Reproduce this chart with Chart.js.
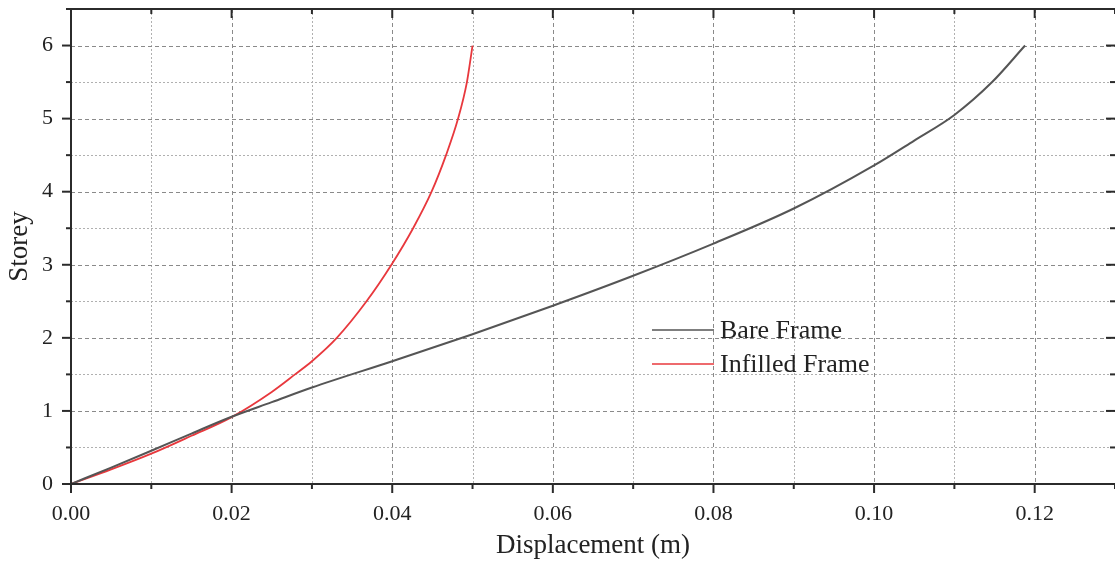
<!DOCTYPE html>
<html><head><meta charset="utf-8">
<script src="https://cdn.jsdelivr.net/npm/chart.js@4.4.0/dist/chart.umd.min.js"></script>
<style>html,body{margin:0;padding:0;background:#fff}#wrap{width:1115px;height:562px;position:relative}canvas{display:block}</style>
</head><body><div id="wrap"><canvas id="c" width="1115" height="562"></canvas></div>
<script>
const seriesNames = ['Bare Frame', 'Infilled Frame'];
const bareX = [0, 0.005, 0.01, 0.015, 0.02, 0.025, 0.03, 0.04, 0.05, 0.06, 0.07, 0.08, 0.09, 0.10, 0.105, 0.11, 0.1147, 0.1188];
const bareY = [0, 0.225, 0.455, 0.69, 0.92, 1.12, 1.32, 1.68, 2.05, 2.44, 2.85, 3.29, 3.77, 4.36, 4.70, 5.05, 5.50, 6.00];
const infillX = [0, 0.005, 0.01, 0.015, 0.02, 0.025, 0.0279, 0.03, 0.0331, 0.0368, 0.0399, 0.0426, 0.0449, 0.0467, 0.0482, 0.0493, 0.0500];
const infillY = [0, 0.20, 0.415, 0.66, 0.915, 1.26, 1.50, 1.68, 2.00, 2.50, 3.00, 3.50, 4.00, 4.50, 5.00, 5.50, 6.00];
const xTickLabels = ['0.00', '0.02', '0.04', '0.06', '0.08', '0.10', '0.12'];
const yTickLabels = ['0', '1', '2', '3', '4', '5', '6'];

const FONT = "'Liberation Serif', 'Times New Roman', serif";
const toPts = (xs, ys) => xs.map((x, i) => ({x: x, y: ys[i]}));
const noPad = s => { s.paddingLeft = 0; s.paddingRight = 0; s.paddingTop = 0; s.paddingBottom = 0; };

const framePlugin = {
  id: 'frame',
  beforeDatasetsDraw(chart) {
    const {ctx, chartArea: a, scales: {x, y}} = chart;
    ctx.save();
    ctx.lineWidth = 1;
    x.ticks.forEach(t => {
      const px = Math.round(x.getPixelForValue(t.value)) + 0.5;
      const major = xTickLabels.includes(t.value.toFixed(2));
      ctx.strokeStyle = major ? '#8a8a8a' : '#b0b0b0';
      ctx.setLineDash(major ? [4, 3] : [2, 2]);
      ctx.beginPath(); ctx.moveTo(px, a.top); ctx.lineTo(px, a.bottom); ctx.stroke();
    });
    y.ticks.forEach(t => {
      const py = Math.round(y.getPixelForValue(t.value)) + 0.5;
      const major = yTickLabels.includes(String(t.value));
      ctx.strokeStyle = major ? '#8a8a8a' : '#b0b0b0';
      ctx.setLineDash(major ? [4, 3] : [2, 2]);
      ctx.beginPath(); ctx.moveTo(a.left, py); ctx.lineTo(a.right, py); ctx.stroke();
    });
    ctx.restore();
  },
  afterDatasetsDraw(chart) {
    const {ctx, chartArea: a, scales: {x, y}} = chart;
    ctx.save();
    ctx.setLineDash([]);
    ctx.strokeStyle = '#2b2b2b';
    ctx.lineWidth = 2;
    ctx.beginPath();
    ctx.moveTo(a.right, a.top); ctx.lineTo(a.left, a.top); ctx.lineTo(a.left, a.bottom); ctx.lineTo(a.right, a.bottom);
    ctx.stroke();
    x.ticks.forEach(t => {
      const px = x.getPixelForValue(t.value);
      const major = xTickLabels.includes(t.value.toFixed(2));
      const len = major ? 9 : 5;
      ctx.beginPath(); ctx.moveTo(px, a.bottom); ctx.lineTo(px, a.bottom + len); ctx.stroke();
      ctx.beginPath(); ctx.moveTo(px, a.top); ctx.lineTo(px, a.top + len); ctx.stroke();
    });
    y.ticks.forEach(t => {
      const py = y.getPixelForValue(t.value);
      const major = yTickLabels.includes(String(t.value));
      const len = major ? 9 : 5;
      ctx.beginPath(); ctx.moveTo(a.left, py); ctx.lineTo(a.left - len, py); ctx.stroke();
      ctx.beginPath(); ctx.moveTo(a.right, py); ctx.lineTo(a.right - len, py); ctx.stroke();
    });
    // legend
    const lx = a.left + 581, ly = a.top + 321, gap = 34;
    ctx.font = '26px ' + FONT;
    ctx.textBaseline = 'middle';
    ctx.textAlign = 'left';
    chart.data.datasets.forEach((ds, i) => {
      const yy = ly + i * gap;
      ctx.strokeStyle = ds.borderColor;
      ctx.lineWidth = 1.6;
      ctx.beginPath(); ctx.moveTo(lx, yy); ctx.lineTo(lx + 62, yy); ctx.stroke();
      ctx.fillStyle = '#222';
      ctx.fillText(ds.label, lx + 68, yy + 1);
    });
    ctx.restore();
  }
};

new Chart(document.getElementById('c'), {
  type: 'line',
  data: {
    datasets: [
      {label: seriesNames[0], data: toPts(bareX, bareY), borderColor: '#555555', borderWidth: 2, pointRadius: 0, cubicInterpolationMode: 'monotone', fill: false},
      {label: seriesNames[1], data: toPts(infillX, infillY), borderColor: '#e8383d', borderWidth: 1.8, pointRadius: 0, cubicInterpolationMode: 'monotone', fill: false}
    ]
  },
  options: {
    responsive: false,
    animation: false,
    events: [],
    layout: {padding: {top: 9, right: 0, left: 0, bottom: 0}},
    plugins: {legend: {display: false}, tooltip: {enabled: false}},
    scales: {
      x: {
        type: 'linear', min: 0, max: 0.13,
        grid: {display: false, drawTicks: false}, border: {display: false},
        ticks: {
          stepSize: 0.01, autoSkip: false, maxRotation: 0, padding: 17, color: '#222',
          font: {family: FONT, size: 22},
          callback: v => { const s = Number(v).toFixed(2); return xTickLabels.includes(s) ? s : ''; }
        },
        title: {display: true, text: 'Displacement (m)', color: '#222', font: {family: FONT, size: 27}, padding: {top: 0, bottom: 0}},
        afterFit: s => { s.height = 78; noPad(s); }
      },
      y: {
        type: 'linear', min: 0, max: 6.5,
        grid: {display: false, drawTicks: false}, border: {display: false},
        ticks: {
          stepSize: 0.5, autoSkip: false, padding: 18, color: '#222',
          font: {family: FONT, size: 22},
          callback: v => { const s = String(v); return yTickLabels.includes(s) ? s : ''; }
        },
        title: {display: true, text: 'Storey', color: '#222', font: {family: FONT, size: 27}, padding: {top: 4, bottom: 0}},
        afterFit: s => { s.width = 71; noPad(s); }
      }
    }
  },
  plugins: [framePlugin]
});
</script></body></html>
